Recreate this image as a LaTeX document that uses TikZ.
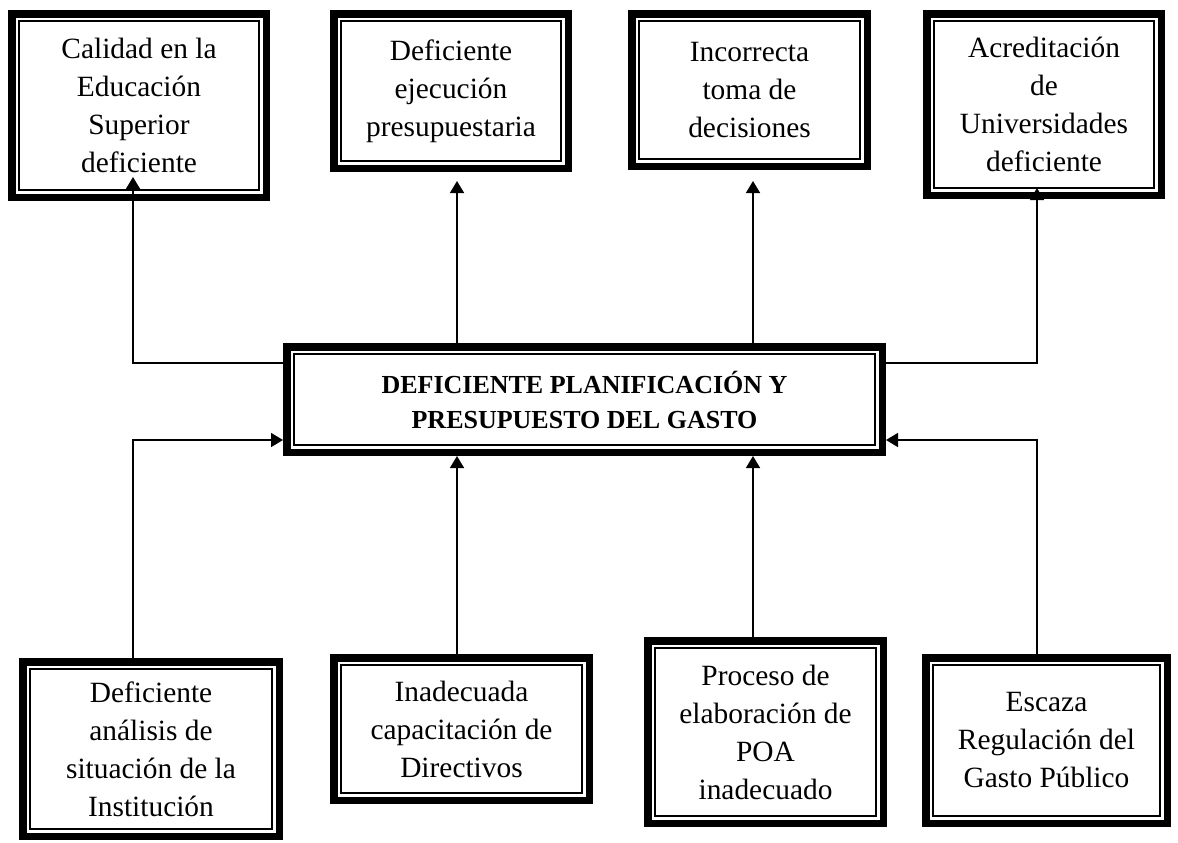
\documentclass[tikz,border=0pt]{standalone}
\usepackage{fontspec}
\setmainfont{Liberation Serif}
\usetikzlibrary{arrows.meta,calc}
\tikzset{
  framebox/.style={draw=black, line width=3.75pt, inner sep=0pt, align=center,
    font=\fontsize{14.7}{19}\selectfont},
  centerbox/.style={framebox, font=\bfseries\fontsize{13}{17.5}\selectfont},
  innerframe/.style={draw=black, line width=0.85pt},
  conn/.style={draw=black, line width=0.8pt},
  arr/.style={conn, -{Triangle[length=6pt,width=7pt]}}
}
\begin{document}
\begin{tikzpicture}[x=0.5pt,y=-0.5pt]
\useasboundingbox (0,0) rectangle (1178,842);
% effect boxes (top)
\node[framebox, minimum width=127.25pt, minimum height=91.75pt] (t1) at (139,105.5)
  {Calidad en la\\Educación\\Superior\\deficiente};
\node[framebox, minimum width=117.25pt, minimum height=77.25pt] (t2) at (451,91)
  {Deficiente\\ejecución\\presupuestaria};
\node[framebox, minimum width=117.75pt, minimum height=76.25pt] (t3) at (749.5,90)
  {Incorrecta\\toma de\\decisiones};
\node[framebox, minimum width=117.25pt, minimum height=90.75pt] (t4) at (1044,104.5)
  {Acreditación\\de\\Universidades\\deficiente};
% central problem
\node[centerbox, minimum width=297.75pt, minimum height=52.75pt] (c) at (584.5,399.5)
  {DEFICIENTE PLANIFICACIÓN Y\\PRESUPUESTO DEL GASTO};
% cause boxes (bottom)
\node[framebox, minimum width=128.25pt, minimum height=87.25pt] (b1) at (151,749)
  {Deficiente\\análisis de\\situación de la\\Institución};
\node[framebox, minimum width=127.75pt, minimum height=71.25pt] (b2) at (461.5,729)
  {Inadecuada\\capacitación de\\Directivos};
\node[framebox, minimum width=117.75pt, minimum height=91.25pt] (b3) at (765.5,732)
  {Proceso de\\elaboración de\\POA\\inadecuado};
\node[framebox, minimum width=120.75pt, minimum height=82.75pt] (b4) at (1046.5,740.5)
  {Escaza\\Regulación del\\Gasto Público};
% inner thin frames
\foreach \n in {t1,t2,t3,t4,c,b1,b2,b3,b4}
  \draw[innerframe] ([shift={(5.4pt,-5.4pt)}]\n.north west) rectangle ([shift={(-5.4pt,5.4pt)}]\n.south east);
% helper coordinates
\coordinate (xL) at (133,0);
\coordinate (xM1) at (457,0);
\coordinate (xM2) at (753,0);
\coordinate (xR) at (1037,0);
\coordinate (yU) at (0,363);
\coordinate (yD) at (0,440);
\coordinate (t1tip) at (133,177);
\coordinate (t2tip) at (457,181);
\coordinate (t3tip) at (753,181);
\coordinate (t4tip) at (1037,188);
% effects
\draw[arr] (c.west |- yU) -| (t1tip);
\draw[arr] (c.north -| xM1) -- (t2tip);
\draw[arr] (c.north -| xM2) -- (t3tip);
\draw[arr] (c.east |- yU) -| (t4tip);
% causes
\draw[arr] (b1.north -| xL) |- (c.west |- yD);
\draw[arr] (b2.north -| xM1) -- (c.south -| xM1);
\draw[arr] (b3.north -| xM2) -- (c.south -| xM2);
\draw[arr] (b4.north -| xR) |- (c.east |- yD);
\end{tikzpicture}
\end{document}
